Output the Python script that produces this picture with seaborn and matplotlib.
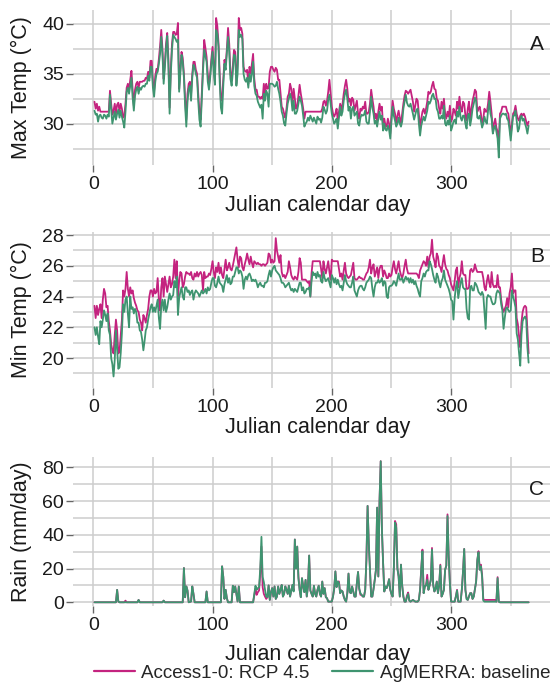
import matplotlib
matplotlib.use("Agg")
import matplotlib.pyplot as plt
from matplotlib.ticker import MultipleLocator
import numpy as np
import pandas as pd
import seaborn as sns

# ---------------- data ----------------
day = list(range(1, 366))

tmax_rcp = [
    32.2, 31.5, 32.0, 31.3, 31.7, 31.2, 31.2, 31.2, 31.2, 31.2,
    31.2, 31.2, 31.2, 33.3, 32.0, 30.9, 31.3, 32.0, 31.0, 31.9,
    32.1, 31.2, 32.0, 31.5, 30.6, 30.8, 32.0, 33.6, 34.0, 33.4,
    34.4, 35.3, 33.4, 31.8, 33.4, 34.0, 34.2, 33.6, 34.2, 34.2,
    34.2, 34.3, 34.3, 34.6, 34.5, 35.2, 34.6, 36.3, 36.3, 34.2,
    33.3, 34.8, 35.5, 35.4, 36.5, 37.8, 39.4, 37.5, 34.5, 36.0,
    38.0, 39.1, 36.5, 31.6, 35.5, 38.0, 39.2, 39.2, 38.9, 39.0,
    40.1, 33.5, 35.5, 37.2, 36.6, 35.0, 32.5, 30.4, 33.0, 34.0,
    34.2, 33.0, 35.0, 36.2, 36.2, 35.4, 35.0, 33.0, 31.2, 30.4,
    33.0, 35.7, 38.4, 37.6, 36.7, 35.0, 33.8, 35.0, 36.5, 37.7,
    35.8, 34.2, 40.6, 39.8, 38.1, 35.0, 32.3, 32.5, 34.5, 36.4,
    35.9, 37.5, 39.6, 38.0, 35.0, 34.4, 35.8, 37.4, 37.2, 34.0,
    36.0, 40.6, 39.4, 39.6, 39.0, 35.7, 35.3, 35.2, 35.4, 34.0,
    35.7, 35.0, 36.0, 37.0, 34.5, 33.4, 33.4, 32.7, 32.7, 32.5,
    32.7, 32.5, 34.0, 33.0, 34.0, 33.5, 33.6, 35.2, 35.7, 35.7,
    35.4, 35.2, 35.6, 35.4, 34.4, 34.4, 33.0, 31.7, 31.5, 31.0,
    30.6, 31.5, 32.7, 33.0, 34.0, 33.5, 32.0, 33.5, 32.5, 31.5,
    31.7, 32.8, 33.9, 33.0, 32.3, 31.5, 30.5, 31.2, 31.2, 31.2,
    31.2, 31.2, 31.2, 31.2, 31.2, 31.2, 31.2, 31.2, 31.2, 31.2,
    31.2, 31.5, 32.2, 32.3, 31.8, 32.3, 33.2, 34.4, 33.0, 31.7,
    31.0, 30.7, 31.0, 31.5, 30.3, 31.2, 32.0, 31.3, 32.0, 33.0,
    33.8, 34.4, 33.5, 32.2, 32.5, 31.8, 32.6, 32.4, 31.3, 31.8,
    32.3, 31.0, 30.5, 31.5, 31.3, 31.7, 31.5, 32.2, 31.0, 31.0,
    31.2, 32.0, 33.4, 32.5, 31.7, 30.5, 31.0, 30.3, 31.2, 32.0,
    31.3, 31.7, 29.7, 30.5, 29.8, 29.7, 30.5, 30.0, 29.0, 30.8,
    32.3, 31.5, 31.0, 30.0, 30.8, 31.3, 30.6, 30.0, 31.0, 32.0,
    32.8, 33.3, 33.2, 33.0, 33.2, 33.4, 32.8, 32.2, 31.2, 31.8,
    32.5, 32.3, 31.0, 29.6, 30.5, 31.2, 31.5, 31.0, 31.5, 32.2,
    33.2, 33.0, 33.2, 33.8, 34.2, 33.5, 33.4, 32.5, 32.3, 31.5,
    31.0, 32.2, 31.5, 32.5, 31.0, 30.5, 31.2, 30.7, 31.8, 30.2,
    30.5, 31.5, 31.2, 30.8, 32.2, 31.5, 32.7, 31.6, 31.2, 32.2,
    32.0, 30.8, 30.3, 31.5, 32.2, 30.5, 31.5, 32.3, 32.8, 33.4,
    33.2, 31.2, 31.5, 31.7, 31.0, 29.8, 30.5, 31.5, 31.2, 31.2,
    32.0, 33.2, 32.2, 31.0, 29.2, 30.0, 30.5, 29.6, 29.2, 28.3,
    31.0, 31.2, 31.7, 31.7, 31.7, 31.7, 31.2, 31.0, 30.0, 28.8,
    30.0, 31.0, 31.2, 31.8, 31.0, 30.5, 30.3, 30.8, 31.0, 30.8,
    31.0, 30.7, 30.2, 29.8, 30.2,
]
tmax_base = [
    31.3, 30.9, 31.0, 30.2, 30.8, 30.9, 30.6, 30.5, 30.9, 30.8,
    30.5, 30.9, 30.7, 32.9, 31.5, 30.0, 30.6, 31.2, 30.4, 31.0,
    31.4, 30.6, 31.3, 30.7, 30.2, 29.6, 31.2, 33.2, 33.6, 33.0,
    33.8, 34.6, 32.6, 31.3, 32.8, 33.4, 33.7, 33.0, 33.6, 33.4,
    33.7, 33.8, 33.7, 34.0, 34.0, 34.8, 34.3, 35.7, 35.7, 33.6,
    32.7, 34.2, 35.0, 35.2, 36.0, 37.0, 38.7, 37.0, 34.0, 35.6,
    37.5, 38.8, 35.8, 31.0, 35.0, 37.4, 38.9, 38.7, 38.5, 38.2,
    38.4, 33.2, 35.0, 36.9, 36.2, 34.6, 31.8, 29.7, 32.2, 33.5,
    33.8, 32.3, 34.6, 35.9, 35.6, 35.0, 34.6, 32.3, 30.4, 29.7,
    32.5, 35.3, 37.4, 36.8, 36.2, 34.2, 33.4, 34.6, 36.0, 37.2,
    35.2, 33.9, 39.4, 39.0, 37.7, 34.2, 31.6, 31.0, 33.8, 36.0,
    35.4, 37.0, 38.7, 37.2, 34.5, 33.8, 35.2, 36.9, 36.8, 33.8,
    35.0, 39.4, 38.7, 38.9, 38.5, 35.0, 34.4, 34.2, 34.6, 33.6,
    35.0, 34.2, 35.0, 36.2, 33.8, 33.0, 32.8, 32.2, 31.9, 31.6,
    31.9, 30.5, 33.0, 32.3, 33.3, 33.0, 31.7, 34.0, 34.0, 34.0,
    33.9, 33.7, 33.8, 34.2, 33.5, 33.0, 32.2, 31.2, 30.8, 30.0,
    29.8, 31.0, 32.0, 32.5, 33.0, 32.5, 31.3, 32.3, 31.0, 31.0,
    31.3, 32.0, 32.7, 32.3, 31.8, 30.8, 29.7, 30.0, 30.2, 30.6,
    30.3, 30.8, 30.5, 30.2, 30.6, 30.3, 30.0, 30.7, 30.4, 30.5,
    30.1, 30.6, 31.7, 31.4, 31.0, 31.3, 32.4, 32.9, 32.0, 31.0,
    30.5, 30.0, 30.2, 30.5, 29.5, 30.6, 31.7, 30.8, 31.2, 32.3,
    33.0, 33.4, 32.5, 31.3, 31.7, 30.5, 31.5, 31.7, 30.8, 31.0,
    31.2, 30.0, 29.8, 30.6, 30.9, 30.8, 30.9, 31.3, 30.2, 30.0,
    30.0, 31.2, 32.7, 31.6, 31.0, 30.0, 30.3, 29.7, 30.5, 31.2,
    30.4, 30.8, 29.3, 30.0, 29.4, 29.3, 29.8, 29.4, 28.5, 30.2,
    31.7, 30.8, 30.3, 29.7, 30.0, 30.6, 30.0, 29.7, 30.2, 31.5,
    32.2, 32.9, 32.1, 31.8, 31.7, 32.0, 31.5, 31.0, 30.4, 30.9,
    31.4, 31.5, 30.0, 28.8, 29.8, 30.3, 30.7, 30.3, 30.8, 31.3,
    32.2, 32.0, 32.3, 32.8, 33.0, 32.5, 32.5, 31.5, 31.2, 30.5,
    30.5, 30.8, 30.5, 31.8, 30.0, 29.8, 30.3, 29.9, 30.8, 29.3,
    29.7, 30.2, 30.4, 30.0, 31.2, 30.7, 31.7, 30.6, 30.3, 30.8,
    30.8, 30.0, 29.5, 30.8, 31.0, 29.8, 30.5, 31.5, 32.0, 32.6,
    32.3, 30.6, 30.5, 30.8, 30.3, 29.6, 30.0, 30.7, 30.2, 30.0,
    31.3, 32.3, 31.0, 30.5, 29.0, 29.5, 29.8, 29.2, 28.5, 26.6,
    30.5, 30.8, 31.0, 31.0, 30.9, 31.0, 30.5, 30.3, 29.4, 28.3,
    29.6, 30.8, 30.8, 31.3, 30.3, 29.2, 29.5, 30.5, 30.8, 30.3,
    30.5, 30.0, 29.6, 29.0, 29.8,
]

tmin_rcp = [
    23.4, 22.6, 23.4, 22.8, 23.2, 23.5, 22.6, 23.8, 24.5, 24.2,
    23.3, 23.4, 22.4, 21.8, 20.9, 20.5, 20.3, 21.5, 22.5, 21.8,
    20.3, 20.4, 21.5, 22.5, 24.4, 24.0, 24.5, 25.6, 24.5, 24.0,
    24.6, 24.2, 24.4, 23.9, 23.6, 23.4, 23.1, 23.0, 22.5, 22.3,
    21.8, 22.8, 22.6, 22.3, 22.8, 23.2, 24.0, 24.4, 24.4, 24.0,
    24.5, 24.2, 24.3, 25.2, 23.8, 23.1, 24.6, 25.2, 24.0, 25.3,
    24.8, 24.3, 24.8, 25.3, 24.6, 24.8, 25.3, 26.4, 25.2, 26.3,
    24.0, 25.0, 25.6, 25.5, 24.6, 24.8, 25.3, 25.6, 25.5, 25.5,
    25.4, 25.6, 25.2, 25.1, 25.5, 25.3, 25.6, 25.3, 25.5, 25.6,
    25.4, 24.4, 25.6, 25.2, 25.3, 25.3, 25.5, 25.4, 25.8, 26.3,
    25.6, 25.2, 25.9, 25.6, 26.2, 25.5, 25.9, 25.4, 25.2, 25.8,
    26.4, 25.7, 25.9, 26.2, 25.8, 25.7, 26.0, 26.4, 26.8, 27.2,
    26.4, 25.9, 26.6, 26.5, 25.9, 25.7, 26.1, 26.4, 26.8, 26.4,
    26.1, 26.6, 26.2, 25.9, 26.3, 26.2, 26.1, 26.2, 26.1, 26.1,
    26.0, 26.1, 26.1, 26.0, 26.1, 26.2, 26.8, 26.7, 26.2, 26.4,
    26.2, 26.3, 27.8, 27.0, 26.6, 26.2, 26.7, 25.6, 25.3, 25.4,
    25.2, 25.4, 25.6, 26.3, 25.9, 25.4, 25.2, 25.1, 25.3, 25.2,
    25.1, 25.6, 26.5, 26.2, 25.1, 25.1, 25.1, 25.1, 25.0, 24.9,
    25.0, 24.0, 25.5, 26.3, 26.3, 26.3, 26.3, 26.3, 26.3, 26.3,
    25.8, 25.2, 26.3, 25.8, 25.5, 25.9, 26.3, 25.6, 25.1, 26.4,
    26.3, 26.3, 26.3, 26.3, 26.3, 25.8, 25.3, 25.5, 25.1, 25.7,
    26.2, 25.5, 25.3, 25.2, 25.3, 25.4, 25.8, 26.2, 25.2, 25.1,
    25.1, 25.2, 25.3, 25.2, 25.2, 25.1, 25.1, 25.3, 25.5, 25.6,
    25.9, 26.4, 25.5, 25.9, 26.1, 25.3, 25.6, 25.9, 25.2, 25.8,
    26.0, 26.0, 25.3, 25.7, 25.5, 25.2, 25.2, 25.5, 25.3, 25.4,
    25.9, 26.3, 25.8, 25.5, 25.9, 26.3, 25.7, 25.4, 25.2, 25.5,
    26.0, 26.4, 25.8, 25.5, 25.5, 25.5, 25.5, 25.5, 25.5, 25.5,
    25.5, 25.4, 25.2, 25.7, 25.9, 26.1, 26.3, 26.2, 26.0, 26.6,
    25.9, 26.6, 26.8, 27.7, 26.6, 26.3, 25.9, 26.8, 26.6, 26.0,
    25.9, 25.6, 26.2, 26.7, 26.1, 25.8, 25.7, 25.4, 25.2, 24.8,
    24.6, 24.4, 25.0, 25.7, 25.9, 24.6, 25.2, 25.5, 26.3, 25.5,
    25.4, 25.4, 24.5, 24.5, 24.6, 25.7, 25.8, 25.6, 25.7, 26.1,
    25.8, 25.6, 25.6, 25.6, 25.6, 25.6, 25.2, 24.6, 24.4, 25.0,
    25.4, 24.9, 24.6, 25.6, 24.8, 24.6, 24.7, 24.6, 25.4, 24.6,
    24.6, 23.8, 23.3, 23.0, 23.2, 23.4, 23.9, 23.3, 24.2, 24.6,
    25.5, 24.2, 24.4, 24.4, 22.6, 22.2, 21.4, 20.7, 22.3, 23.0,
    23.3, 23.4, 23.3, 21.8, 20.3,
]
tmin_base = [
    22.0, 21.5, 22.0, 21.4, 20.9, 22.4, 22.0, 22.5, 23.1, 22.8,
    22.4, 22.9, 21.8, 21.5, 20.0, 19.6, 18.8, 19.9, 21.8, 20.5,
    19.3, 19.4, 20.3, 21.6, 23.5, 23.0, 23.8, 24.0, 22.9, 22.0,
    24.0, 23.2, 23.3, 22.9, 23.2, 23.0, 22.3, 22.3, 21.8, 21.7,
    21.2, 20.5, 21.1, 21.8, 22.0, 22.5, 22.9, 23.3, 23.5, 23.0,
    23.3, 23.0, 23.4, 23.8, 22.6, 21.9, 23.4, 23.8, 23.1, 23.8,
    23.0, 23.3, 23.8, 24.2, 23.8, 24.0, 24.1, 25.0, 24.6, 25.3,
    22.8, 23.9, 24.3, 24.6, 24.0, 23.8, 24.6, 24.6, 24.3, 24.4,
    24.1, 24.3, 24.4, 23.8, 24.2, 24.4, 24.3, 24.2, 24.0, 24.2,
    24.4, 24.2, 24.3, 24.5, 24.2, 24.6, 24.4, 24.5, 24.9, 25.2,
    25.2, 24.7, 24.6, 24.9, 25.3, 24.9, 24.8, 24.7, 24.3, 24.8,
    25.1, 25.4, 24.9, 25.2, 24.8, 24.9, 25.3, 25.3, 25.6, 25.9,
    25.9, 25.5, 25.7, 25.6, 25.3, 24.5, 25.1, 25.3, 25.1, 25.4,
    25.5, 25.3, 25.0, 25.1, 25.0, 25.1, 24.9, 24.6, 24.8, 24.9,
    24.7, 24.7, 24.6, 24.9, 24.9, 25.0, 25.4, 25.7, 25.3, 25.7,
    25.9, 26.0, 25.7, 25.6, 25.5, 25.4, 25.2, 24.9, 24.9, 24.8,
    24.6, 24.7, 24.8, 24.9, 24.6, 24.4, 24.5, 24.3, 24.5, 24.4,
    24.3, 24.6, 24.9, 24.9, 24.4, 24.6, 24.2, 24.3, 24.5, 24.5,
    24.6, 24.0, 25.0, 25.6, 25.4, 25.5, 25.2, 25.6, 25.3, 25.4,
    25.0, 24.9, 25.6, 25.2, 25.0, 25.1, 25.2, 24.9, 24.6, 25.4,
    25.2, 24.9, 25.2, 24.8, 25.1, 24.8, 24.6, 24.7, 24.4, 24.9,
    25.4, 25.0, 24.8, 24.7, 24.6, 24.6, 24.9, 25.3, 24.4, 24.2,
    24.0, 24.4, 24.6, 24.7, 24.7, 24.5, 24.4, 24.6, 24.9, 25.0,
    25.1, 25.3, 25.2, 24.5, 24.0, 24.6, 24.9, 24.9, 25.1, 24.9,
    25.0, 25.2, 24.7, 25.0, 24.9, 24.0, 23.9, 24.6, 24.7, 24.7,
    24.8, 25.0, 24.9, 24.7, 25.1, 25.5, 25.1, 25.1, 25.2, 24.9,
    25.1, 25.3, 25.1, 25.2, 24.9, 25.2, 24.9, 25.1, 24.8, 25.0,
    24.7, 24.5, 24.2, 24.0, 25.0, 25.2, 25.5, 25.3, 25.6, 25.7,
    25.7, 26.3, 26.1, 25.8, 25.4, 25.1, 24.9, 25.5, 25.3, 24.9,
    24.6, 25.0, 25.2, 25.7, 25.1, 24.9, 24.7, 24.5, 24.2, 23.8,
    23.7, 22.5, 23.9, 24.6, 25.0, 23.9, 24.4, 24.9, 25.2, 24.6,
    24.5, 24.5, 23.2, 22.6, 22.5, 24.6, 24.7, 24.4, 24.4, 24.9,
    24.8, 24.6, 24.3, 24.2, 24.1, 24.3, 24.1, 23.0, 21.9, 23.9,
    24.1, 24.0, 24.0, 23.7, 23.5, 23.5, 23.6, 24.2, 24.4, 24.3,
    24.2, 23.5, 23.1, 21.9, 22.6, 23.2, 23.3, 23.1, 23.0, 23.1,
    24.4, 24.0, 23.7, 23.3, 21.6, 21.2, 20.3, 19.5, 21.5, 22.4,
    22.6, 22.7, 22.5, 20.7, 19.7,
]

rain_day = [
    1, 19, 20, 21, 22, 26, 27, 28, 37, 38, 39, 58, 59, 60, 75, 76, 77, 78, 79, 80,
    82, 83, 84, 85, 94, 95, 96, 107, 108, 109, 110, 111, 112, 113, 116, 117, 118, 119, 120, 121,
    122, 123, 134, 135, 136, 137, 138, 139, 140, 141, 142, 143, 144, 145, 146, 147, 148, 149, 150, 151,
    152, 153, 154, 155, 156, 157, 158, 159, 160, 161, 162, 163, 164, 165, 166, 167, 168, 169, 170, 171,
    172, 173, 174, 175, 176, 177, 178, 179, 180, 181, 182, 183, 184, 185, 186, 187, 188, 189, 190, 191,
    192, 193, 194, 195, 196, 197, 200, 201, 202, 203, 204, 205, 206, 207, 208, 209, 210, 211, 212, 213,
    214, 215, 216, 217, 218, 219, 220, 221, 222, 223, 224, 225, 226, 227, 228, 229, 230, 231, 232, 233,
    234, 235, 236, 237, 238, 239, 240, 241, 242, 243, 244, 245, 246, 247, 248, 249, 250, 251, 252, 253,
    254, 255, 256, 257, 258, 259, 260, 261, 262, 263, 264, 265, 266, 268, 270, 272, 273, 274, 275, 276,
    277, 278, 279, 280, 281, 282, 283, 284, 285, 286, 287, 288, 289, 290, 291, 292, 293, 294, 295, 296,
    297, 298, 299, 300, 303, 304, 305, 306, 308, 309, 310, 311, 312, 313, 314, 315, 316, 317, 318, 319,
    320, 321, 322, 323, 324, 325, 326, 327, 328, 337, 338, 339, 340, 341, 365,
]
rain_base = [
    0, 0, 7.4, 0.5, 0, 0, 0, 0, 0, 1.4, 0, 0, 1.0, 0, 0, 20.3, 3, 9.4, 7, 0,
    0.5, 9.4, 5, 0, 0, 6.4, 0, 0, 21.3, 15, 2, 7.4, 2.4, 0, 0, 9.8, 6, 9.4, 5, 0.5,
    9.4, 0, 0, 5, 9.8, 7.4, 8.4, 9, 20, 38.8, 15, 12, 7.4, 3.4, 3, 10, 1.4, 6, 8.4, 3.4,
    9.4, 2, 3.4, 9.4, 5, 7.4, 10.3, 3.4, 5, 9.4, 7.4, 5, 9.8, 3.4, 7, 10.3, 6.4, 37.2, 20, 33,
    14.3, 7.4, 3, 14.3, 9.4, 6, 13.3, 3.4, 9.4, 27.7, 7, 5, 3.4, 9.8, 5, 3.4, 7.4, 9.8, 5, 3.4,
    12.3, 5, 8.4, 3, 2.4, 0.4, 0.4, 3.4, 8, 18.3, 9, 12.3, 11.3, 5.4, 7, 6.4, 3.4, 1.4, 0.4, 5.4,
    17, 6, 5.4, 9.4, 6.4, 3.4, 3.4, 11.3, 18, 8, 5.4, 4.4, 3.4, 3.4, 7.4, 25, 57.1, 35, 19.3, 3.4,
    3.4, 8, 13.3, 19.3, 56.1, 15.3, 60, 83.6, 43.2, 23.3, 6.4, 9.4, 8.4, 10.4, 13.7, 7.4, 5, 3.4, 20, 47.2,
    44.2, 20, 15.3, 3.4, 22.3, 10, 3.4, 0.4, 0.4, 3, 5, 1, 0.4, 1.4, 0.4, 0.4, 1.4, 7.4, 20, 30.2,
    5.4, 9.4, 10, 13.3, 7.4, 10, 13.3, 31.2, 10.4, 6.4, 8, 12.3, 5.4, 10, 21.7, 3.4, 5, 7.4, 19.3, 21.7,
    51.1, 27.3, 11.3, 0.4, 0.4, 3.4, 7, 0.4, 0.4, 7.4, 18, 31.6, 7.4, 1.8, 1.4, 3.4, 5.4, 5.4, 2, 3.4,
    8, 12.3, 25, 29.7, 19.3, 21.3, 15.3, 1, 0.4, 0.4, 0.4, 14.3, 0.4, 0, 0,
]
rain_rcp = [
    0, 0, 7.4, 0.5, 0, 0, 1.0, 0, 0, 1.4, 0, 0, 1.0, 0, 0, 20.3, 3, 9.4, 7, 0,
    0.5, 9.4, 5, 0, 0, 6.4, 0, 0, 21.3, 15, 2, 7.4, 2.4, 0, 0, 9.8, 6, 9.4, 5, 0.5,
    9.4, 0, 0, 4, 8.5, 4.4, 6, 7, 17, 33, 9, 5, 3.4, 2, 3, 10, 1.4, 6, 8.4, 3.4,
    9.4, 2, 3.4, 9.4, 5, 7.4, 10.3, 3.4, 5, 9.4, 7.4, 5, 9.8, 3.4, 7, 10.3, 7, 37.2, 20, 33,
    15.3, 7.4, 3, 14.3, 9.4, 6, 13.3, 3.4, 9.4, 27.7, 7, 5, 3.4, 9.8, 5, 3.4, 7.4, 9.8, 5, 3.4,
    12.3, 5, 8.4, 3, 2.4, 0.4, 0.4, 3.4, 8, 18.3, 9, 12.3, 12.3, 5.4, 7, 6.4, 3.4, 1.4, 0.4, 5.4,
    17, 6, 5.4, 9.4, 6.4, 3.4, 3.4, 11.3, 18, 8, 4.4, 4.4, 3.4, 3.4, 7.4, 25, 57.1, 35, 19.3, 3.4,
    3.4, 8, 13.3, 19.3, 56.1, 15.3, 60, 83.6, 43.2, 23.3, 6.4, 9.4, 8.4, 10.4, 13.7, 7.4, 5, 3.4, 20, 48.2,
    46.2, 20, 15.3, 3.4, 22.3, 10, 3.4, 0.4, 0.4, 4, 5.8, 1, 0.4, 1.4, 0.4, 0.4, 1.4, 7.4, 20, 31.2,
    5.4, 9.4, 10, 16.3, 7.4, 10, 13.3, 32.2, 10.4, 6.4, 8, 12.3, 5.4, 10, 22.3, 3.4, 5, 7.4, 19.3, 21.7,
    52.1, 27.3, 11.3, 0.4, 0.4, 3.4, 7.4, 0.4, 0.4, 7.4, 18, 31.6, 7.4, 2.4, 1.4, 3.4, 5.4, 5.4, 2, 3.4,
    8, 12.3, 25, 30.3, 19.3, 22.3, 16.3, 1.8, 1.4, 1.4, 0.4, 14.9, 0.4, 0, 0,
]

series_labels = ["Access1-0: RCP 4.5", "AgMERRA: baseline"]
panel_letters = ["A", "B", "C"]
ylabels = ["Max Temp (\u00b0C)", "Min Temp (\u00b0C)", "Rain (mm/day)"]
xlabel = "Julian calendar day"

# ---------------- style ----------------
sns.set_theme(style="white")
plt.rcParams['font.family'] = ['Liberation Sans', 'DejaVu Sans']

C_RCP = "#C4237F"
C_BASE = "#3F9470"
GRID = "#cdcdcd"
TXT = "#1a1a1a"

fig = plt.figure(figsize=(5.5, 6.92), dpi=100)
W, H = 550.0, 692.0
left_px, right_px = 73, 562
boxes = [(10, 165), (232, 388), (457, 606)]
xlabel_top = [195, 417, 644]
axes = []
for top, bot in boxes:
    ax = fig.add_axes([left_px / W, 1 - bot / H, (right_px - left_px) / W, (bot - top) / H])
    axes.append(ax)

panels = [
    (day, tmax_rcp, day, tmax_base, (25.85, 41.4), 5, 2.5),
    (day, tmin_rcp, day, tmin_base, (18.05, 28.2), 2, 1),
    (rain_day, rain_rcp, rain_day, rain_base, (-2.2, 86.1), 20, 10),
]
letter_y = [37.9, 26.6, 67]

for i, (ax, (x1, y1, x2, y2, ylim, major, minor)) in enumerate(zip(axes, panels)):
    sns.lineplot(x=x1, y=y1, ax=ax, color=C_RCP, linewidth=1.3, label=series_labels[0],
                 legend=False, estimator=None, sort=False)
    sns.lineplot(x=x2, y=y2, ax=ax, color=C_BASE, linewidth=1.3, label=series_labels[1],
                 legend=False, estimator=None, sort=False)
    ax.set_xlim(-17, 393)
    ax.set_ylim(*ylim)
    ax.xaxis.set_major_locator(MultipleLocator(100))
    ax.xaxis.set_minor_locator(MultipleLocator(50))
    ax.yaxis.set_major_locator(MultipleLocator(major))
    ax.yaxis.set_minor_locator(MultipleLocator(minor))
    ax.grid(True, which="both", color=GRID, linewidth=1.1)
    ax.set_axisbelow(True)
    for s in ax.spines.values():
        s.set_visible(False)
    ax.tick_params(axis="both", which="major", direction="out", length=5, width=1.0,
                   color="#666666", labelsize=14, labelcolor=TXT,
                   bottom=True, left=True)
    ax.tick_params(axis="x", which="major", pad=3)
    ax.tick_params(axis="y", which="major", pad=1.5)
    ax.tick_params(axis="both", which="minor", length=0)
    ax.set_xlabel(xlabel, fontsize=15.5, color=TXT)
    ax.set_ylabel(ylabels[i], fontsize=15.5, color=TXT)
    top, bot = boxes[i]
    ax.xaxis.set_label_coords(0.5, -(xlabel_top[i] - bot) / (bot - top))
    ax.yaxis.set_label_coords(-0.083, 0.5)
    ax.text(372, letter_y[i], panel_letters[i], fontsize=15, color=TXT,
            ha="center", va="center")

handles = axes[2].get_lines()[:2]
fig.legend(handles, series_labels, loc="center", bbox_to_anchor=(322 / W, 1 - 673 / H),
           ncol=2, frameon=False, fontsize=13.5, handlelength=2.2, handletextpad=0.35,
           columnspacing=1.2, borderaxespad=0, borderpad=0)
for lh in fig.legends[0].get_lines():
    lh.set_linewidth(1.6)

fig.savefig("out.png", dpi=100)
